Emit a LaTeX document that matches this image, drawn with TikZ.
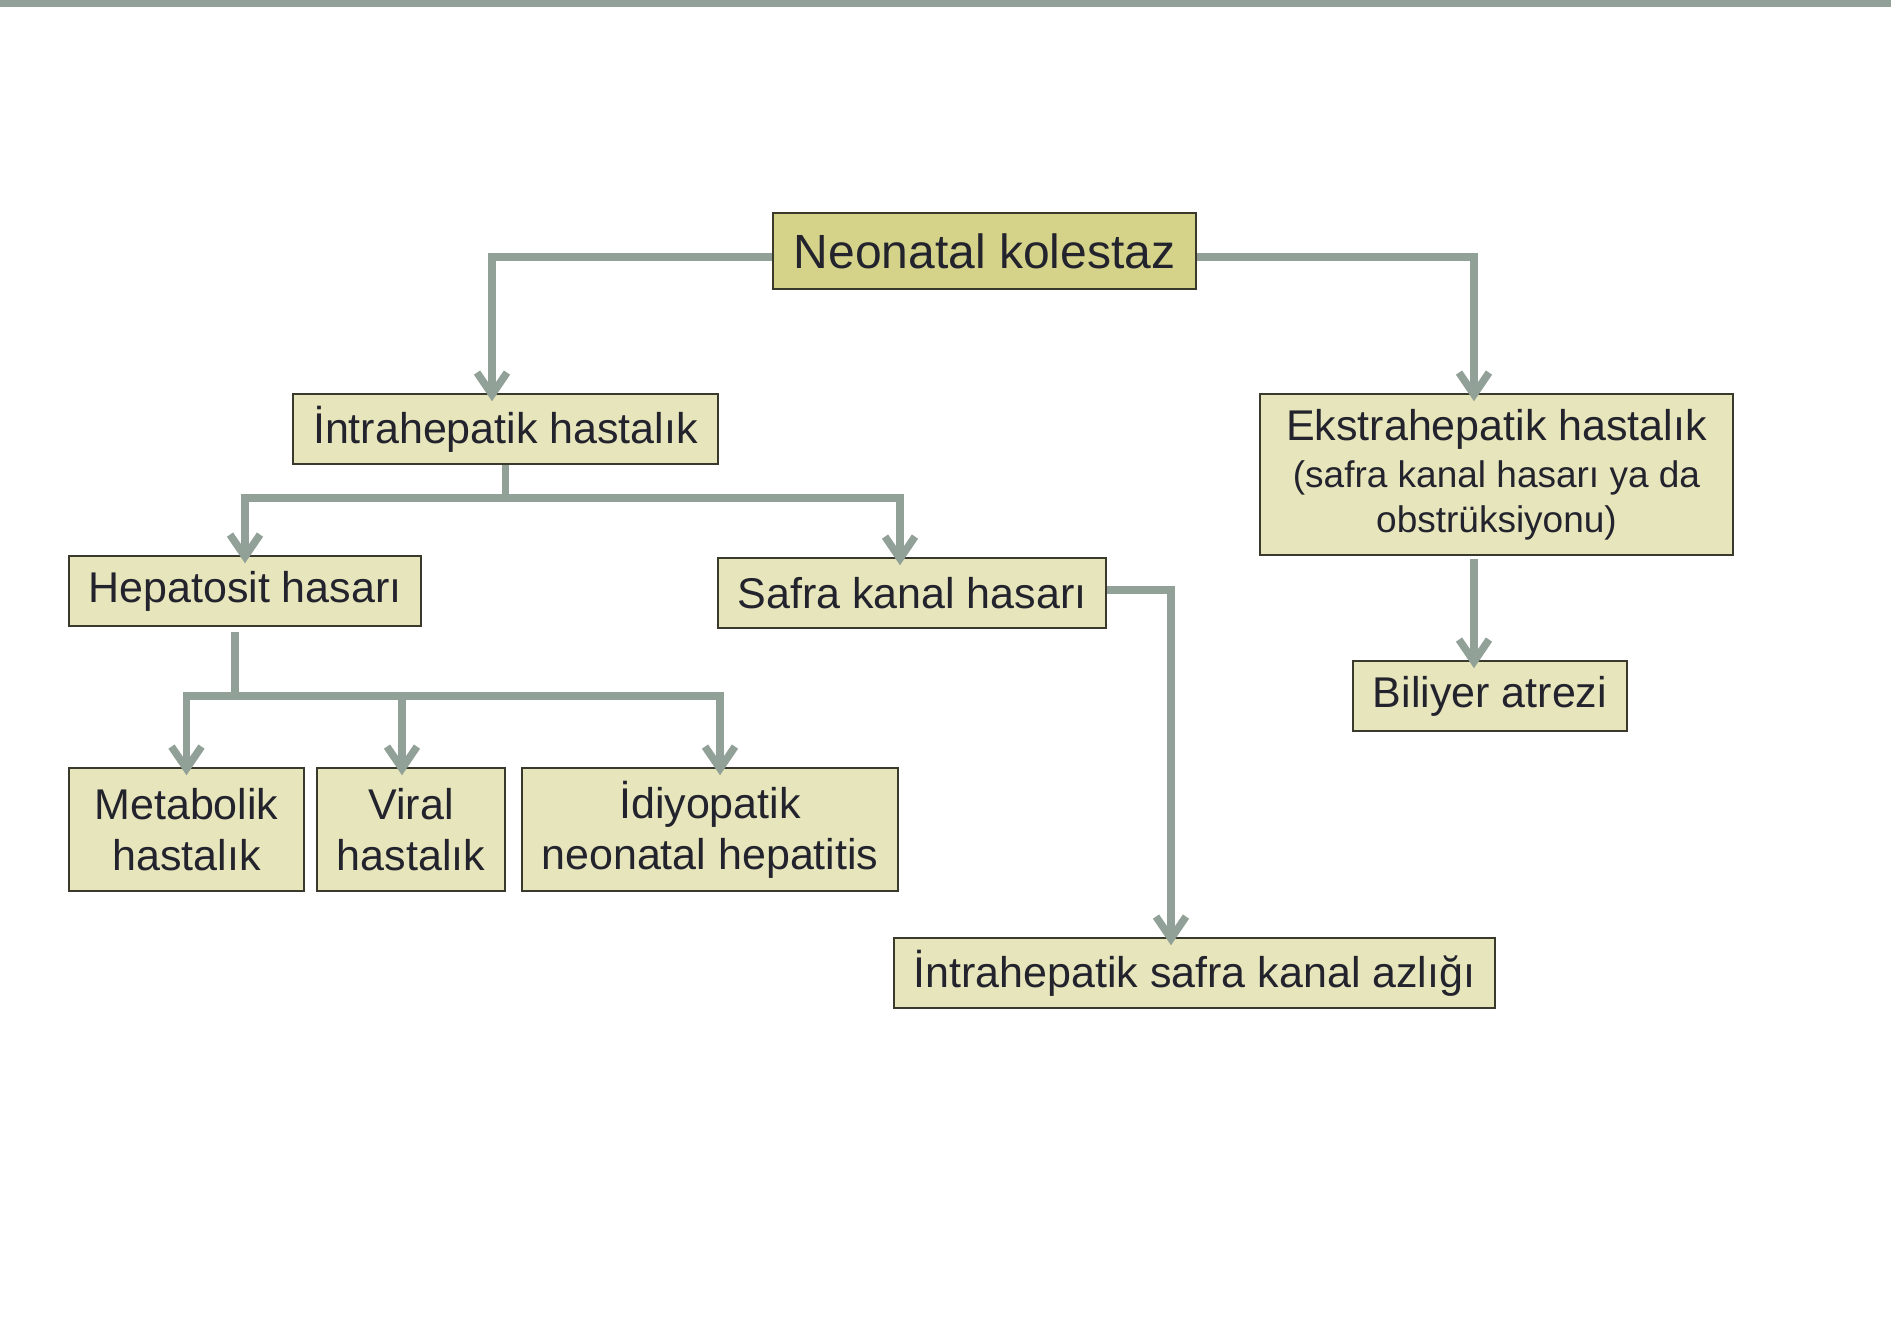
\documentclass[tikz,border=0pt]{standalone}
\usepackage{fontspec}
\setmainfont{Liberation Sans}
\usetikzlibrary{arrows.meta}
\definecolor{conncol}{HTML}{92A197}
\definecolor{boxfill}{HTML}{E7E5BB}
\definecolor{topfill}{HTML}{D5D389}
\definecolor{boxline}{HTML}{3A3A2C}
\definecolor{txt}{HTML}{23232D}
\tikzset{
  box/.style={draw=boxline, line width=1.5pt, fill=boxfill, text=txt, inner sep=0pt,
    align=center, font=\fontsize{43}{51}\selectfont},
  conn/.style={draw=conncol, line width=7.5pt, line join=miter},
  arr/.style={conn, -{Straight Barb[length=22pt,width=30pt]}, shorten >=-8pt}
}
\begin{document}
\begin{tikzpicture}[x=1pt,y=-1pt]
\useasboundingbox (0,0) rectangle (1891,1335);
\fill[white] (0,0) rectangle (1891,1335);
\fill[conncol] (0,0) rectangle (1891,7);

\node[box, fill=topfill, minimum width=423pt, minimum height=76pt, font=\fontsize{48}{56}\selectfont] (neo) at (984.5,251) {Neonatal kolestaz};
\node[box, minimum width=425pt, minimum height=70pt] (intra) at (505.5,429) {İntrahepatik hastalık};
\node[box, minimum width=352pt, minimum height=70pt] (hep) at (245,591) {Hepatosit hasarı};
\node[box, minimum width=388pt, minimum height=70pt] (safra) at (912,593) {Safra kanal hasarı};
\node[box, minimum width=235pt, minimum height=123pt] (meta) at (186.5,829.5) {Metabolik\\hastalık};
\node[box, minimum width=188pt, minimum height=123pt] (viral) at (411,829.5) {Viral\\hastalık};
\node[box, minimum width=376pt, minimum height=123pt] (idio) at (710,829.5) {İdiyopatik\\neonatal hepatitis};
\node[box, minimum width=601pt, minimum height=70pt] (azl) at (1194.5,973) {İntrahepatik safra kanal azlığı};
\node[box, minimum width=473pt, minimum height=161pt] (ekstra) at (1496.5,474.5)
  {Ekstrahepatik hastalık\\[-4pt]{\fontsize{37}{43}\selectfont (safra kanal hasarı ya da}\\[-6pt]{\fontsize{37}{43}\selectfont obstrüksiyonu)}};
\node[box, minimum width=274pt, minimum height=70pt] (bil) at (1490,696) {Biliyer atrezi};

% top level
\draw[arr] ([yshift=-6pt]neo.west) -| ([xshift=-13.5pt]intra.north);
\draw[arr] ([yshift=-6pt]neo.east) -| ([xshift=-22.5pt]ekstra.north);

% intrahepatik branch
\coordinate (b1) at (505.5,498);
\draw[conn] (intra.south) -- (b1);
\draw[arr] (b1) -| (hep.north);
\draw[arr] (b1) -| ([xshift=-12pt]safra.north);

% hepatosit branch
\coordinate (h0) at (235,632);
\coordinate (b2) at (235,696);
\draw[conn] (h0) -- (b2);
\draw[arr] (b2) -| (meta.north);
\draw[arr] (b2) -| ([xshift=-9pt]viral.north);
\draw[arr] (b2) -| ([xshift=10pt]idio.north);

% safra -> azlik
\draw[arr] ([yshift=3pt]safra.east) -| ([xshift=-23.5pt]azl.north);

% ekstra -> biliyer
\draw[arr] ([xshift=-22.5pt,yshift=-3pt]ekstra.south) -- ([xshift=-22.5pt]ekstra.south |- bil.north);
\end{tikzpicture}
\end{document}
